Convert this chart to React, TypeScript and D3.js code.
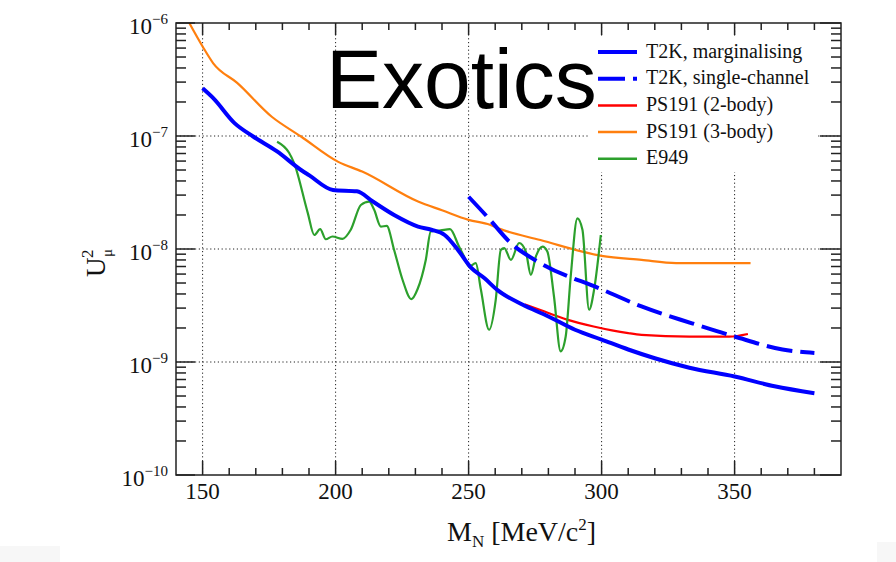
import React, { useEffect, useRef } from "react";
import * as d3 from "d3";

// T2K, marginalising
const margMass = [150, 154, 162, 169, 178, 187, 190, 199, 208, 214, 222, 231, 236, 241, 246, 251, 256, 261, 270, 280, 290, 300, 310, 320, 333, 350, 365, 380];
const margU2 = [2.64e-7, 2.16e-7, 1.3e-7, 9.9e-8, 7.3e-8, 5.0e-8, 4.5e-8, 3.33e-8, 3.24e-8, 2.63e-8, 2.0e-8, 1.58e-8, 1.48e-8, 1.33e-8, 9.8e-9, 6.8e-9, 5.5e-9, 4.3e-9, 3.24e-9, 2.53e-9, 1.93e-9, 1.58e-9, 1.29e-9, 1.08e-9, 8.9e-10, 7.45e-10, 6.1e-10, 5.3e-10];

// T2K, single-channel
const singleMass = [250, 257, 266, 277, 300, 315, 334, 350, 368, 380];
const singleU2 = [2.9e-8, 1.93e-8, 1.12e-8, 7.5e-9, 4.4e-9, 3.1e-9, 2.2e-9, 1.68e-9, 1.29e-9, 1.2e-9];

// PS191 (2-body)
const ps2Mass = [271, 277, 287, 297, 310, 315, 333, 348, 355];
const ps2U2 = [3.24e-9, 2.88e-9, 2.37e-9, 2.06e-9, 1.8e-9, 1.74e-9, 1.68e-9, 1.68e-9, 1.77e-9];

// PS191 (3-body)
const ps3Mass = [145, 150, 154, 163, 176, 187, 201, 210, 231, 240, 250, 258, 262, 277, 300, 315, 328, 356];
const ps3U2 = [1.0e-6, 6.2e-7, 4.4e-7, 2.95e-7, 1.48e-7, 9.9e-8, 5.9e-8, 4.84e-8, 2.63e-8, 2.2e-8, 1.81e-8, 1.64e-8, 1.5e-8, 1.2e-8, 8.7e-9, 8.0e-9, 7.5e-9, 7.5e-9];

// E949
const e949Mass = [178, 182.5, 184.4, 189.5, 192, 194.2, 196.3, 198.8, 202.6, 205.7, 209.5, 212.6, 214.5, 217, 219.2, 222, 225.1, 228.5, 230.8, 233.9, 235.8, 239.5, 243, 246.4, 248.3, 250.2, 252.7, 254.6, 257.7, 260.2, 262.1, 263.4, 265.9, 269, 271.5, 273.4, 275.3, 277.8, 279.6, 282.1, 284.6, 286.5, 288.4, 290.9, 292.8, 295.3, 297.2, 299.7];
const e949U2 = [8.9e-8, 7.1e-8, 5.75e-8, 2.1e-8, 1.33e-8, 1.5e-8, 1.22e-8, 1.29e-8, 1.23e-8, 1.48e-8, 2.45e-8, 2.63e-8, 2.22e-8, 1.58e-8, 1.6e-8, 9.8e-9, 5.4e-9, 3.6e-9, 4.4e-9, 8.0e-9, 1.43e-8, 1.46e-8, 1.5e-8, 1.05e-8, 8.6e-9, 7.0e-9, 7.5e-9, 4.4e-9, 1.93e-9, 3.55e-9, 9.8e-9, 1.02e-8, 8.0e-9, 1.13e-8, 9.5e-9, 5.9e-9, 8.6e-9, 1.05e-8, 9.5e-9, 3.8e-9, 1.24e-9, 1.68e-9, 5.75e-9, 1.87e-8, 1.48e-8, 2.9e-9, 4.4e-9, 1.33e-8];

const xMajor = [150, 200, 250, 300, 350];
const xMinor = [160, 170, 180, 190, 210, 220, 230, 240, 260, 270, 280, 290, 310, 320, 330, 340, 360, 370, 380];
const yExponents = [-10, -9, -8, -7, -6];

const legendItems = [
  { label: "T2K, marginalising", color: "#0000ff", width: 4, dash: null },
  { label: "T2K, single-channel", color: "#0000ff", width: 4, dash: "27 8" },
  { label: "PS191 (2-body)", color: "#ff0000", width: 2.5, dash: null },
  { label: "PS191 (3-body)", color: "#ff7f0e", width: 2.5, dash: null },
  { label: "E949", color: "#2ca02c", width: 2.5, dash: null },
];

const SERIF = '"Liberation Serif", "Times New Roman", "DejaVu Serif", serif';

export default function App() {
  const ref = useRef<SVGSVGElement>(null);

  useEffect(() => {
    const svg = d3.select(ref.current);
    svg.selectAll("*").remove();

    const left = 176, right = 841, top = 23, bottom = 475;
    const x = d3.scaleLinear().domain([140, 390]).range([left, right]);
    const y = d3.scaleLog().domain([1e-10, 1e-6]).range([bottom, top]);

    svg.append("rect").attr("width", 896).attr("height", 562).attr("fill", "#fff");
    // faint screenshot corners
    svg.append("rect").attr("x", 0).attr("y", 546).attr("width", 60).attr("height", 16).attr("fill", "#f7f7f7");
    svg.append("rect").attr("x", 877).attr("y", 542).attr("width", 19).attr("height", 20).attr("fill", "#f7f7f7");

    svg.append("clipPath").attr("id", "plotclip")
      .append("rect").attr("x", left).attr("y", top).attr("width", right - left).attr("height", bottom - top);

    // grid
    const grid = svg.append("g").attr("stroke", "#222").attr("stroke-width", 1).attr("stroke-dasharray", "1.2 2.6");
    xMajor.forEach(v => {
      grid.append("line").attr("x1", x(v)).attr("x2", x(v)).attr("y1", top).attr("y2", bottom);
    });
    yExponents.slice(1, 4).forEach(e => {
      grid.append("line").attr("x1", left).attr("x2", right).attr("y1", y(Math.pow(10, e))).attr("y2", y(Math.pow(10, e)));
    });

    // curves
    const line = d3.line<[number, number]>()
      .x(d => x(d[0]))
      .y(d => y(d[1]))
      .curve(d3.curveMonotoneX);
    const curves = svg.append("g").attr("clip-path", "url(#plotclip)").attr("fill", "none")
      .attr("stroke-linejoin", "round");
    const zip = (a: number[], b: number[]) => a.map((v, i) => [v, b[i]] as [number, number]);

    curves.append("path").attr("d", line(zip(ps3Mass, ps3U2))).attr("stroke", "#ff7f0e").attr("stroke-width", 2.2);
    curves.append("path").attr("d", line(zip(ps2Mass, ps2U2))).attr("stroke", "#ff0000").attr("stroke-width", 2.2);
    curves.append("path").attr("d", line(zip(e949Mass, e949U2))).attr("stroke", "#2ca02c").attr("stroke-width", 2.2);
    curves.append("path").attr("d", line(zip(singleMass, singleU2))).attr("stroke", "#0000ff").attr("stroke-width", 4)
      .attr("stroke-dasharray", "26 8");
    curves.append("path").attr("d", line(zip(margMass, margU2))).attr("stroke", "#0000ff").attr("stroke-width", 4);

    // frame and ticks
    const axes = svg.append("g").attr("stroke", "#222").attr("stroke-width", 1.5);
    axes.append("rect").attr("x", left).attr("y", top).attr("width", right - left).attr("height", bottom - top).attr("fill", "none");
    xMajor.forEach(v => {
      axes.append("line").attr("x1", x(v)).attr("x2", x(v)).attr("y1", bottom).attr("y2", bottom - 14);
      axes.append("line").attr("x1", x(v)).attr("x2", x(v)).attr("y1", top).attr("y2", top + 12);
    });
    xMinor.forEach(v => {
      axes.append("line").attr("x1", x(v)).attr("x2", x(v)).attr("y1", bottom).attr("y2", bottom - 7);
      axes.append("line").attr("x1", x(v)).attr("x2", x(v)).attr("y1", top).attr("y2", top + 7);
    });
    yExponents.forEach(e => {
      const yy = y(Math.pow(10, e));
      axes.append("line").attr("x1", left).attr("x2", left + 19).attr("y1", yy).attr("y2", yy);
      axes.append("line").attr("x1", right).attr("x2", right - 21).attr("y1", yy).attr("y2", yy);
      if (e < -6) {
        d3.range(2, 10).forEach(k => {
          const ym = y(k * Math.pow(10, e));
          axes.append("line").attr("x1", left).attr("x2", left + 10).attr("y1", ym).attr("y2", ym);
          axes.append("line").attr("x1", right).attr("x2", right - 10).attr("y1", ym).attr("y2", ym);
        });
      }
    });

    // tick labels
    const labels = svg.append("g").style("font-family", SERIF).attr("fill", "#111");
    xMajor.forEach(v => {
      labels.append("text").attr("x", x(v)).attr("y", 499).attr("text-anchor", "middle")
        .attr("font-size", 23).text(String(v));
    });
    yExponents.forEach(e => {
      const yy = y(Math.pow(10, e));
      const t = labels.append("text").attr("x", 168).attr("y", yy + 11).attr("text-anchor", "end").attr("font-size", 23);
      t.append("tspan").text("10");
      t.append("tspan").attr("font-size", 15).attr("dy", -10).text("\u2212" + String(-e));
    });

    // axis titles
    const xt = labels.append("text").attr("x", 447).attr("y", 541).attr("font-size", 28);
    xt.append("tspan").text("M");
    xt.append("tspan").attr("font-size", 17).attr("dy", 6).text("N");
    xt.append("tspan").attr("dy", -6).text(" [MeV/c");
    xt.append("tspan").attr("font-size", 17).attr("dy", -11).text("2");
    xt.append("tspan").attr("dy", 11).text("]");

    const yt = labels.append("g").attr("transform", "translate(105,277) rotate(-90)");
    yt.append("text").attr("x", 0).attr("y", 0).attr("font-size", 27).text("U");
    yt.append("text").attr("x", 19).attr("y", -12).attr("font-size", 17).text("2");
    yt.append("text").attr("x", 20).attr("y", 7).attr("font-size", 15).text("\u03bc");

    // legend
    const legend = svg.append("g");
    legend.append("rect").attr("x", 588).attr("y", 37).attr("width", 230).attr("height", 135).attr("fill", "#fff");
    legendItems.forEach((item, i) => {
      const ly = 52 + i * 26.7;
      const l = legend.append("line").attr("x1", 598).attr("x2", 637).attr("y1", ly).attr("y2", ly)
        .attr("stroke", item.color).attr("stroke-width", item.width);
      if (item.dash) l.attr("stroke-dasharray", item.dash);
      legend.append("text").attr("x", 646).attr("y", ly + 5.5).style("font-family", SERIF).attr("font-size", 20)
        .attr("fill", "#111").text(item.label);
    });

    svg.append("text").attr("x", 326).attr("y", 108).style("font-family", '"Liberation Sans", Arial, sans-serif')
      .attr("font-size", 84).attr("fill", "#000").text("Exotics");
  }, []);

  return <svg ref={ref} width={896} height={562} style={{ position: "absolute", left: 0, top: 0 }} />;
}
